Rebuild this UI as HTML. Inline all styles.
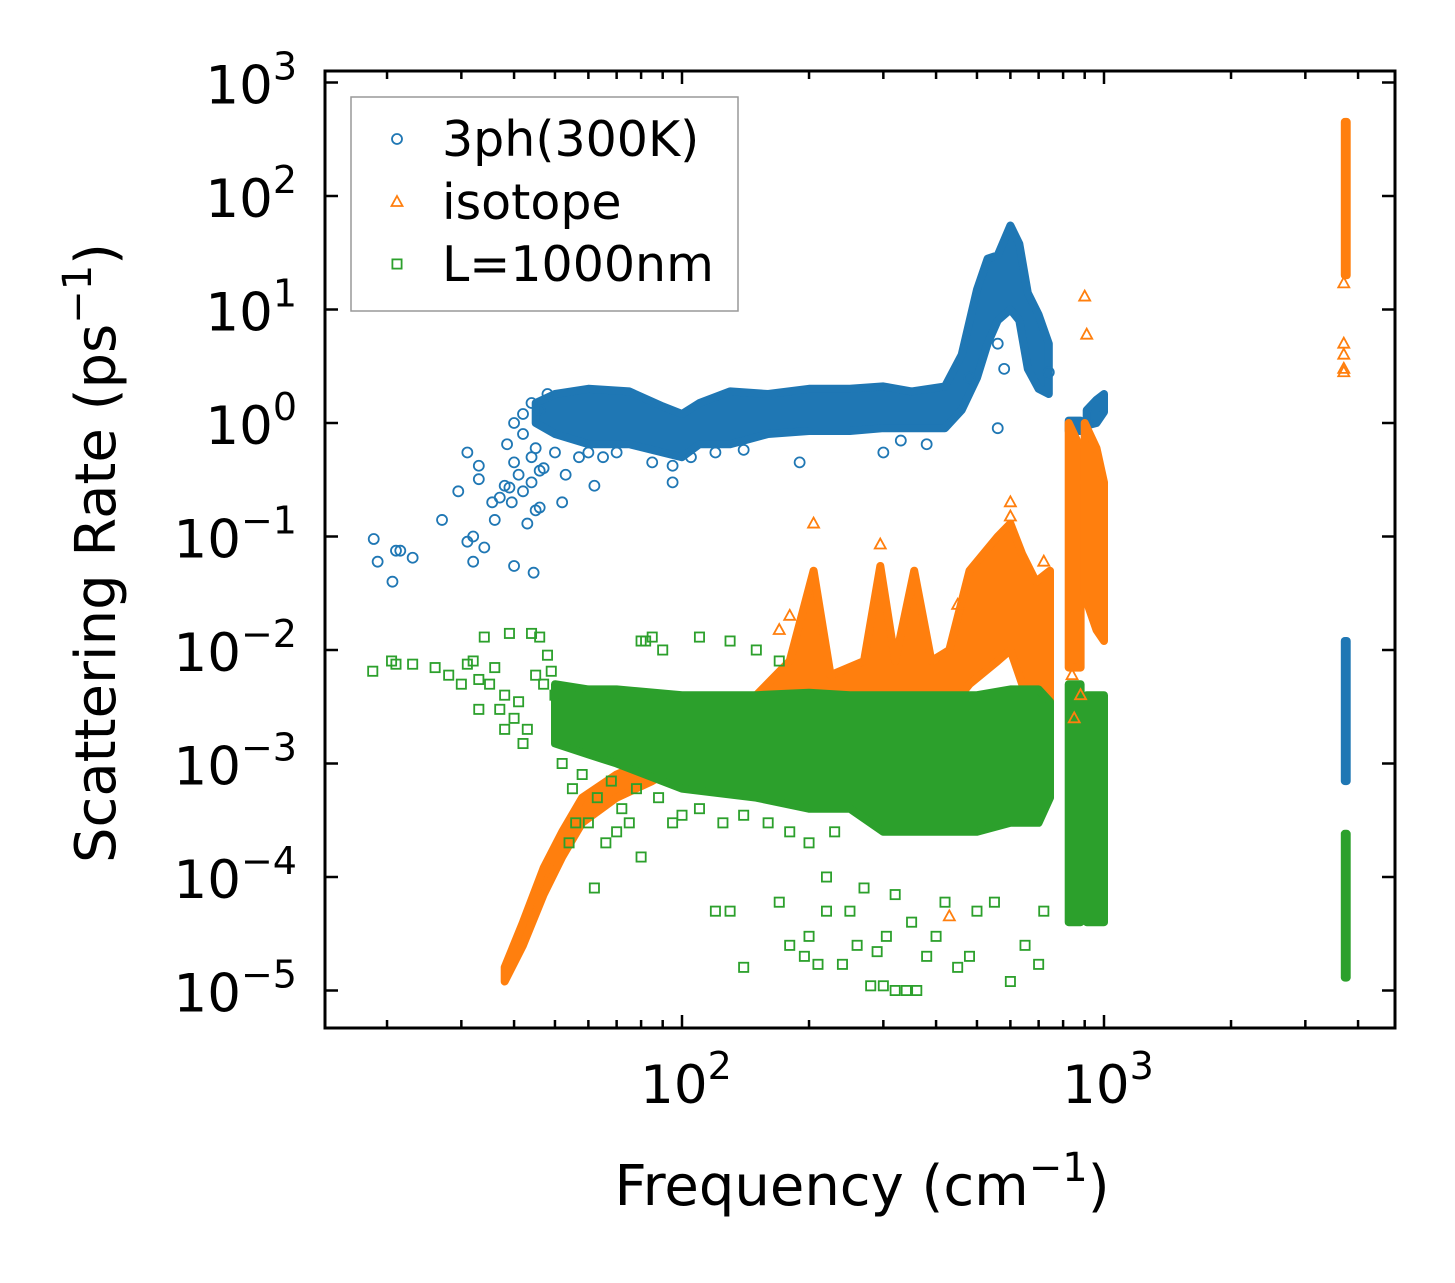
<!DOCTYPE html>
<html><head><meta charset="utf-8"><style>
html,body{margin:0;padding:0;background:#fff;}
svg text{font-family:"DejaVu Sans","Liberation Sans",sans-serif;fill:#000;}
</style></head><body>
<svg id="chart" width="1455" height="1278" xmlns="http://www.w3.org/2000/svg">
<rect width="1455" height="1278" fill="#fff"/>
<g id="bands"></g>
<g id="pts"></g>
<g id="axes"></g>
</svg>
<script>
// ---- data ----
const xTickVals=[100,1000];
const xTickLabels=["2","3"];
const yTickVals=[1e3,1e2,1e1,1,1e-1,1e-2,1e-3,1e-4,1e-5];
const yTickExps=["3","2","1","0","\u22121","\u22122","\u22123","\u22124","\u22125"];
// dense regions (freq, low rate, high rate)
const blueBandF=[45,50,60,75,90,100,110,130,160,200,250,300,350,420,460,500,530,560,600,630,660,700,740];
const blueBandLo=[1.0,0.8,0.65,0.65,0.55,0.5,0.65,0.65,0.8,0.85,0.85,0.9,0.9,0.9,1.3,2.5,5,8,10,8,3,2,1.8];
const blueBandHi=[1.5,1.8,2.0,1.9,1.4,1.2,1.5,1.9,1.8,2.0,2.0,2.1,1.9,2.1,4,15,28,30,55,38,14,9,5];
const blueBand2F=[825,880],blueBand2Lo=[0.85,0.85],blueBand2Hi=[1.05,1.05];
const blueBand3F=[910,960,1000],blueBand3Lo=[0.95,1.0,1.25],blueBand3Hi=[1.3,1.6,1.8];
const blueBand4F=[3720,3760],blueBand4Lo=[7e-4,7e-4],blueBand4Hi=[0.012,0.012];
const orBandF=[38,42,47,52,58,70,85,100,150,180,205,225,270,295,320,355,390,430,480,560,600,640,690,745];
const orBandLo=[1.2e-5,2.5e-5,7e-5,1.5e-4,3e-4,5e-4,7e-4,1e-3,1.2e-3,1.5e-3,2e-3,2e-3,2e-3,3e-3,2e-3,3e-3,2e-3,3e-3,5e-3,8e-3,0.01,5e-3,3e-3,2e-3];
const orBandHi=[1.6e-5,4e-5,1.2e-4,2.5e-4,5e-4,8e-4,1.1e-3,2e-3,4e-3,8e-3,0.05,6e-3,8e-3,0.055,8e-3,0.05,8e-3,0.01,0.05,0.1,0.13,0.07,0.04,0.05];
const orBand2F=[825,880],orBand2Lo=[7e-3,7e-3],orBand2Hi=[1.0,0.6];
const orBand3F=[900,960,1000],orBand3Lo=[0.03,0.015,0.012],orBand3Hi=[1.0,0.6,0.3];
const orBand4F=[3720,3760],orBand4Lo=[20,20],orBand4Hi=[450,450];
const grBandF=[50,60,70,100,150,200,250,300,400,500,600,700,745];
const grBandLo=[1.5e-3,1.2e-3,1e-3,6e-4,5e-4,4e-4,4e-4,2.5e-4,2.5e-4,2.5e-4,3e-4,3e-4,5e-4];
const grBandHi=[5e-3,4.5e-3,4.5e-3,4e-3,4e-3,4.2e-3,4e-3,4e-3,4e-3,4e-3,4.5e-3,4.5e-3,3.5e-3];
const grBand2F=[825,880],grBand2Lo=[4e-5,4e-5],grBand2Hi=[5e-3,5e-3];
const grBand3F=[910,1000],grBand3Lo=[4e-5,4e-5],grBand3Hi=[4e-3,4e-3];
const grBand4F=[3720,3760],grBand4Lo=[1.3e-5,1.3e-5],grBand4Hi=[2.4e-4,2.4e-4];
// sparse points
const blueF=[18.6,19,20.6,21,21.5,23,27,29.5,31,31,32,32,33,33,34,35.5,36,37,38,38.5,39,39.5,40,40,40,41,42,42,43,44,44,44.5,45,45,46,46,47,50,52,53,57,62,70,95,190,300,330,380,560,580,560,480,740,42,44,46,48,60,65,85,95,105,120,140];
const blueR=[0.095,0.06,0.04,0.075,0.075,0.065,0.14,0.25,0.55,0.09,0.1,0.06,0.42,0.32,0.08,0.2,0.14,0.22,0.28,0.65,0.27,0.2,0.45,1.0,0.055,0.35,0.25,0.8,0.13,0.3,0.5,0.048,0.6,0.17,0.18,0.38,0.4,0.55,0.2,0.35,0.5,0.28,0.55,0.3,0.45,0.55,0.7,0.65,0.9,3,5,2.5,2.8,1.2,1.5,1.3,1.8,0.55,0.5,0.45,0.42,0.5,0.55,0.58];
const orF=[205,295,840,850,880,900,910,600,450,720,430,3700,3700,3700,3700,3700,170,180,600];
const orR=[0.13,0.085,6e-3,2.5e-3,4e-3,13,6,0.2,0.025,0.06,4.5e-5,5,4,3,2.8,17,1.5e-2,2e-2,0.15];
const grF=[18.5,20.5,21,23,26,28,30,31,32,33,33,34,35,36,37,38,38,39,40,41,42,43,44,46,48,50,52,54,56,60,62,66,70,75,80,82,85,90,95,80,120,130,140,170,180,195,200,210,220,240,260,280,290,300,305,320,340,360,380,400,420,450,480,500,550,600,650,700,720,110,130,150,170,250,350,270,320,220,45,47,49,55,58,63,68,72,78,88,100,110,125,140,160,180,200,230];
const grR=[6.5e-3,8e-3,7.5e-3,7.5e-3,7e-3,6e-3,5e-3,7.5e-3,8e-3,5.5e-3,3e-3,1.3e-2,5e-3,7e-3,3e-3,2e-3,4e-3,1.4e-2,2.5e-3,3.5e-3,1.5e-3,2e-3,1.4e-2,1.3e-2,9e-3,4e-3,1e-3,2e-4,3e-4,3e-4,8e-5,2e-4,2.5e-4,3e-4,1.2e-2,1.2e-2,1.3e-2,1e-2,3e-4,1.5e-4,5e-5,5e-5,1.6e-5,6e-5,2.5e-5,2e-5,3e-5,1.7e-5,5e-5,1.7e-5,2.5e-5,1.1e-5,2.2e-5,1.1e-5,3e-5,1e-5,1e-5,1e-5,2e-5,3e-5,6e-5,1.6e-5,2e-5,5e-5,6e-5,1.2e-5,2.5e-5,1.7e-5,5e-5,1.3e-2,1.2e-2,1e-2,8e-3,5e-5,4e-5,8e-5,7e-5,1e-4,6e-3,5e-3,6.5e-3,6e-4,8e-4,5e-4,7e-4,4e-4,6e-4,5e-4,3.5e-4,4e-4,3e-4,3.5e-4,3e-4,2.5e-4,2e-4,2.5e-4];

// ---- axes ----
const L=325,R=1395,T=71,B=1028;
const X=f=>682+(Math.log10(f)-2)*422;
const Y=v=>82.5+(3-Math.log10(v))*113.5;
const NS="http://www.w3.org/2000/svg";
function mk(tag,attrs,parent){const e=document.createElementNS(NS,tag);for(const k in attrs)e.setAttribute(k,attrs[k]);parent.appendChild(e);return e;}
const bands=document.getElementById('bands'),pts=document.getElementById('pts'),axes=document.getElementById('axes');
const C={b:"#1f77b4",o:"#ff7f0e",g:"#2ca02c"};

function band(F,Lo,Hi,col,name){
  let d=F.map((f,i)=>(i?'L':'M')+X(f).toFixed(1)+','+Y(Hi[i]).toFixed(1)).join('');
  for(let i=F.length-1;i>=0;i--)d+='L'+X(F[i]).toFixed(1)+','+Y(Lo[i]).toFixed(1);
  const p=mk('path',{d:d+'Z',fill:col,stroke:col,'stroke-width':8,'stroke-linejoin':'round'},bands);
  
  
}
function marker(kind,x,y,col,parent){
  let e;
  if(kind==='c')e=mk('circle',{cx:x,cy:y,r:5,fill:'none',stroke:col,'stroke-width':1.8},parent);
  else if(kind==='t')e=mk('path',{d:`M${x},${y-6}L${x+5.5},${y+4}L${x-5.5},${y+4}Z`,fill:'none',stroke:col,'stroke-width':1.8},parent);
  else e=mk('rect',{x:x-4.6,y:y-4.6,width:9.2,height:9.2,fill:'none',stroke:col,'stroke-width':1.8},parent);
  return e;
}
function scatter(F,Rr,kind,col,name){
  F.forEach((f,i)=>{const e=marker(kind,X(f),Y(Rr[i]),col,pts);
    
    });
}
band(blueBandF,blueBandLo,blueBandHi,C.b,'3ph-dense-region');
band(blueBand2F,blueBand2Lo,blueBand2Hi,C.b,'3ph-dense-region');
band(blueBand3F,blueBand3Lo,blueBand3Hi,C.b,'3ph-dense-region');
band(blueBand4F,blueBand4Lo,blueBand4Hi,C.b,'3ph-dense-region');
scatter(blueF,blueR,'c',C.b,'3ph-point');
band(orBandF,orBandLo,orBandHi,C.o,'isotope-dense-region');
band(orBand2F,orBand2Lo,orBand2Hi,C.o,'isotope-dense-region');
band(orBand3F,orBand3Lo,orBand3Hi,C.o,'isotope-dense-region');
band(orBand4F,orBand4Lo,orBand4Hi,C.o,'isotope-dense-region');
scatter(orF,orR,'t',C.o,'isotope-point');
band(grBandF,grBandLo,grBandHi,C.g,'boundary-dense-region');
band(grBand2F,grBand2Lo,grBand2Hi,C.g,'boundary-dense-region');
band(grBand3F,grBand3Lo,grBand3Hi,C.g,'boundary-dense-region');
band(grBand4F,grBand4Lo,grBand4Hi,C.g,'boundary-dense-region');
scatter(grF,grR,'s',C.g,'boundary-point');

// frame
const fr=mk('rect',{x:L,y:T,width:R-L,height:B-T,fill:'none',stroke:'#000','stroke-width':3},axes);


// x ticks
for(let e=1;e<=3;e++)for(let m=1;m<10;m++){const f=m*Math.pow(10,e);const x=X(f);if(x<L||x>R)continue;
  const len=m===1?13:8;
  mk('line',{x1:x,y1:B,x2:x,y2:B-len,stroke:'#000','stroke-width':2.5},axes);
  mk('line',{x1:x,y1:T,x2:x,y2:T+len,stroke:'#000','stroke-width':2.5},axes);}
xTickVals.forEach((v,i)=>{const t=mk('text',{x:X(v)+4,y:1103,'font-size':53,'text-anchor':'middle'},axes);
  
  
  t.innerHTML='10<tspan dy="-24" font-size="38">'+xTickLabels[i]+'</tspan>';});
yTickVals.forEach((v,i)=>{const y=Y(v);
  mk('line',{x1:L,y1:y,x2:L+13,y2:y,stroke:'#000','stroke-width':2.5},axes);
  mk('line',{x1:R,y1:y,x2:R-13,y2:y,stroke:'#000','stroke-width':2.5},axes);
  const t=mk('text',{x:297,y:y+21,'font-size':53,'text-anchor':'end'},axes);
  
  
  t.innerHTML='10<tspan dy="-24" font-size="38">'+yTickExps[i]+'</tspan>';});
// axis titles
const xt=mk('text',{x:862,y:1205,'font-size':56,'text-anchor':'middle'},axes);


xt.innerHTML='Frequency (cm<tspan dy="-24" font-size="40">\u22121</tspan><tspan dy="24">)</tspan>';
const yt=mk('text',{x:0,y:0,'font-size':56,'text-anchor':'middle',transform:'translate(115,553) rotate(-90)'},axes);


yt.innerHTML='Scattering Rate (ps<tspan dy="-24" font-size="40">\u22121</tspan><tspan dy="24">)</tspan>';
// legend
const lg=mk('g',{},axes);


mk('rect',{x:351,y:97,width:387,height:214,fill:'#fff',stroke:'#999','stroke-width':1.5},lg);
const legNames=["3ph(300K)","isotope","L=1000nm"],legKinds=['c','t','s'],legCols=[C.b,C.o,C.g],legY=[139,202,264];
legNames.forEach((n,i)=>{const g=mk('g',{},lg);
  
  
  marker(legKinds[i],397,legY[i],legCols[i],g);
  const t=mk('text',{x:442,y:legY[i]+17,'font-size':49},g);t.textContent=n;});
</script>
</body></html>
